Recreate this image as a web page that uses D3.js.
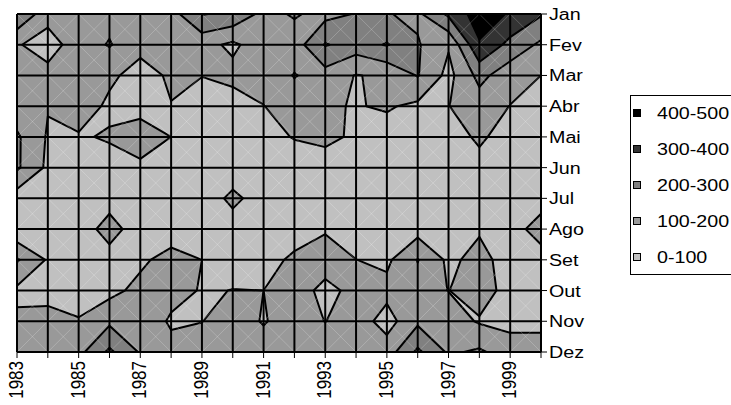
<!DOCTYPE html>
<html>
<head>
<meta charset="utf-8">
<script src="https://cdn.jsdelivr.net/npm/d3@7"></script>
<style>
  body { margin: 0; background: #fff; }
  svg { display: block; }
  text { font-family: "Liberation Sans", Arial, sans-serif; fill: #000; }
</style>
</head>
<body>
<div id="chart"></div>
<script>
// ── Dados ───────────────────────────────────────────────
const years  = d3.range(1983, 2001);
const months = ['Jan', 'Fev', 'Mar', 'Abr', 'Mai', 'Jun', 'Jul', 'Ago', 'Set', 'Out', 'Nov', 'Dez'];
const yearLabels = [1983, 1985, 1987, 1989, 1991, 1993, 1995, 1997, 1999];
const bands      = ['0-100', '100-200', '200-300', '300-400', '400-500'];
const thresholds = [100, 200, 300, 400];
const bandColors = ['#c0c0c0', '#999999', '#808080', '#333333', '#000000'];

// valores por mês (1983 … 2000)
const jan = [290, 140, 160, 170, 150, 160, 305, 280, 170, 210, 170, 205, 205, 180, 320, 450, 390, 310];
const fev = [110,  50, 155, 207, 130, 150, 134,  80, 160, 150, 308, 250, 308, 210, 110, 390, 270, 180];
const mar = [150, 136, 150, 120,  60, 115, 102, 130, 140, 205, 160,  95, 120, 206,  70, 230, 140, 100];
const abr = [140, 105, 155,  80,  65,  97,  60,  50,  98, 150, 110,  95, 110,  80,  98, 150,  98,  60];
const mai = [215,  90,  90, 110, 150, 100,  60,  50,  70, 105, 130,  80,  60,  60,  60, 115,  60,  50];
const jun = [215,  80,  60,  60,  80,  60,  50,  50,  60,  50,  40,  50,  50,  50,  98,  70,  50,  50];
const jul = [ 50,  60,  60,  70,  60,  50,  50, 120,  60,  50,  50,  50,  50,  50,  60,  50,  50,  50];
const ago = [ 20,  60,  60, 130,  60,  40,  70,  60,  60,  50,  90,  50,  50,  60,  60,  90,  50, 150];
const set = [210,  90,  60,  70,  80, 140, 100,  60,  60, 120, 150, 101,  80, 205,  80, 130,  60,  50];
const out = [ 80,  60,  60,  70, 130, 150,  90, 102, 100, 150,  70, 130, 130, 150,  98, 150,  60,  60];
const nov = [117, 140, 106, 180, 200,  80,  98, 150,  92, 150,  98, 150,  60, 180, 150,  90,  70,  70];
const dez = [150, 150, 170, 320, 190, 150, 150, 150, 150, 150, 150, 150, 150, 320, 185, 215, 150, 150];

const grid = [jan, fev, mar, abr, mai, jun, jul, ago, set, out, nov, dez];

// ── Layout ──────────────────────────────────────────────
const W = 731, H = 405;
const plot = { left: 17, right: 541, top: 14, bottom: 352 };
const nx = years.length, ny = months.length;

const x = d3.scaleLinear().domain([0, nx - 1]).range([plot.left, plot.right]);
const y = d3.scaleLinear().domain([0, ny - 1]).range([plot.top, plot.bottom]);

const svg = d3.select('#chart').append('svg')
    .attr('width', W).attr('height', H);

svg.append('clipPath').attr('id', 'plotClip')
  .append('rect')
    .attr('x', plot.left).attr('y', plot.top)
    .attr('width', plot.right - plot.left).attr('height', plot.bottom - plot.top);

const g = svg.append('g').attr('clip-path', 'url(#plotClip)');

// fundo = faixa mais baixa
g.append('rect')
    .attr('x', plot.left).attr('y', plot.top)
    .attr('width', plot.right - plot.left).attr('height', plot.bottom - plot.top)
    .attr('fill', bandColors[0]);

// contornos (d3 coloca o valor i no centro i+0.5)
const proj = d3.geoTransform({
    point(px, py) { this.stream.point(x(px - 0.5), y(py - 0.5)); }
});
const path = d3.geoPath(proj);
const contours = d3.contours().size([nx, ny]).thresholds(thresholds)(grid.flat());

g.selectAll('path.band').data(contours).join('path')
    .attr('class', 'band')
    .attr('d', path)
    .attr('fill', (d, i) => bandColors[i + 1])
    .attr('stroke', '#000')
    .attr('stroke-width', 2)
    .attr('stroke-linejoin', 'round');

// diagonais brancas finas em cada célula
const diag = g.append('g')
    .attr('stroke', '#fff').attr('stroke-opacity', 0.3).attr('stroke-width', 0.7);
for (let i = 0; i < nx - 1; i++) {
    for (let j = 0; j < ny - 1; j++) {
        diag.append('line')
            .attr('x1', x(i)).attr('y1', y(j)).attr('x2', x(i + 1)).attr('y2', y(j + 1));
        diag.append('line')
            .attr('x1', x(i + 1)).attr('y1', y(j)).attr('x2', x(i)).attr('y2', y(j + 1));
    }
}

// grade preta
const gridG = svg.append('g').attr('stroke', '#000').attr('stroke-width', 2);
years.forEach((yr, i) => {
    gridG.append('line')
        .attr('x1', x(i)).attr('x2', x(i))
        .attr('y1', plot.top).attr('y2', plot.bottom);
});
months.forEach((m, j) => {
    gridG.append('line')
        .attr('x1', plot.left).attr('x2', plot.right)
        .attr('y1', y(j)).attr('y2', y(j));
});

// ── Eixo Y (direita) ────────────────────────────────────
const yAxis = svg.append('g');
months.forEach((m, j) => {
    yAxis.append('line')
        .attr('x1', plot.right).attr('x2', plot.right + 6)
        .attr('y1', y(j)).attr('y2', y(j))
        .attr('stroke', '#000').attr('stroke-width', 1);
    yAxis.append('text')
        .attr('transform', `translate(${plot.right + 8},${y(j) + 6}) scale(1.23,1)`)
        .style('font-size', '16px')
        .text(m);
});

// ── Eixo X (baixo) ──────────────────────────────────────
const xAxis = svg.append('g');
years.forEach((yr, i) => {
    xAxis.append('line')
        .attr('x1', x(i)).attr('x2', x(i))
        .attr('y1', plot.bottom).attr('y2', plot.bottom + 6)
        .attr('stroke', '#000').attr('stroke-width', 1);
});
yearLabels.forEach(yr => {
    const i = years.indexOf(yr);
    xAxis.append('text')
        .attr('transform', `translate(${x(i) + 6},${plot.bottom + 9}) scale(1.2,1) rotate(-90)`)
        .attr('text-anchor', 'end')
        .style('font-size', '17px')
        .text(yr);
});

// ── Legenda ─────────────────────────────────────────────
const legend = svg.append('g');
legend.append('rect')
    .attr('x', 630.5).attr('y', 95.5).attr('width', 130).attr('height', 179)
    .attr('fill', '#fff').attr('stroke', '#000').attr('stroke-width', 1);

const legendY = d3.scalePoint().domain(bands.slice().reverse()).range([113, 257]);
bands.slice().reverse().forEach(b => {
    const cy = legendY(b);
    const ci = bands.indexOf(b);
    legend.append('rect')
        .attr('x', 633.5).attr('y', cy - 3.5).attr('width', 7).attr('height', 7)
        .attr('fill', bandColors[ci]).attr('stroke', '#000').attr('stroke-width', 1);
    legend.append('text')
        .attr('transform', `translate(657,${cy + 6}) scale(1.23,1)`)
        .style('font-size', '16px')
        .text(b);
});
</script>
</body>
</html>
